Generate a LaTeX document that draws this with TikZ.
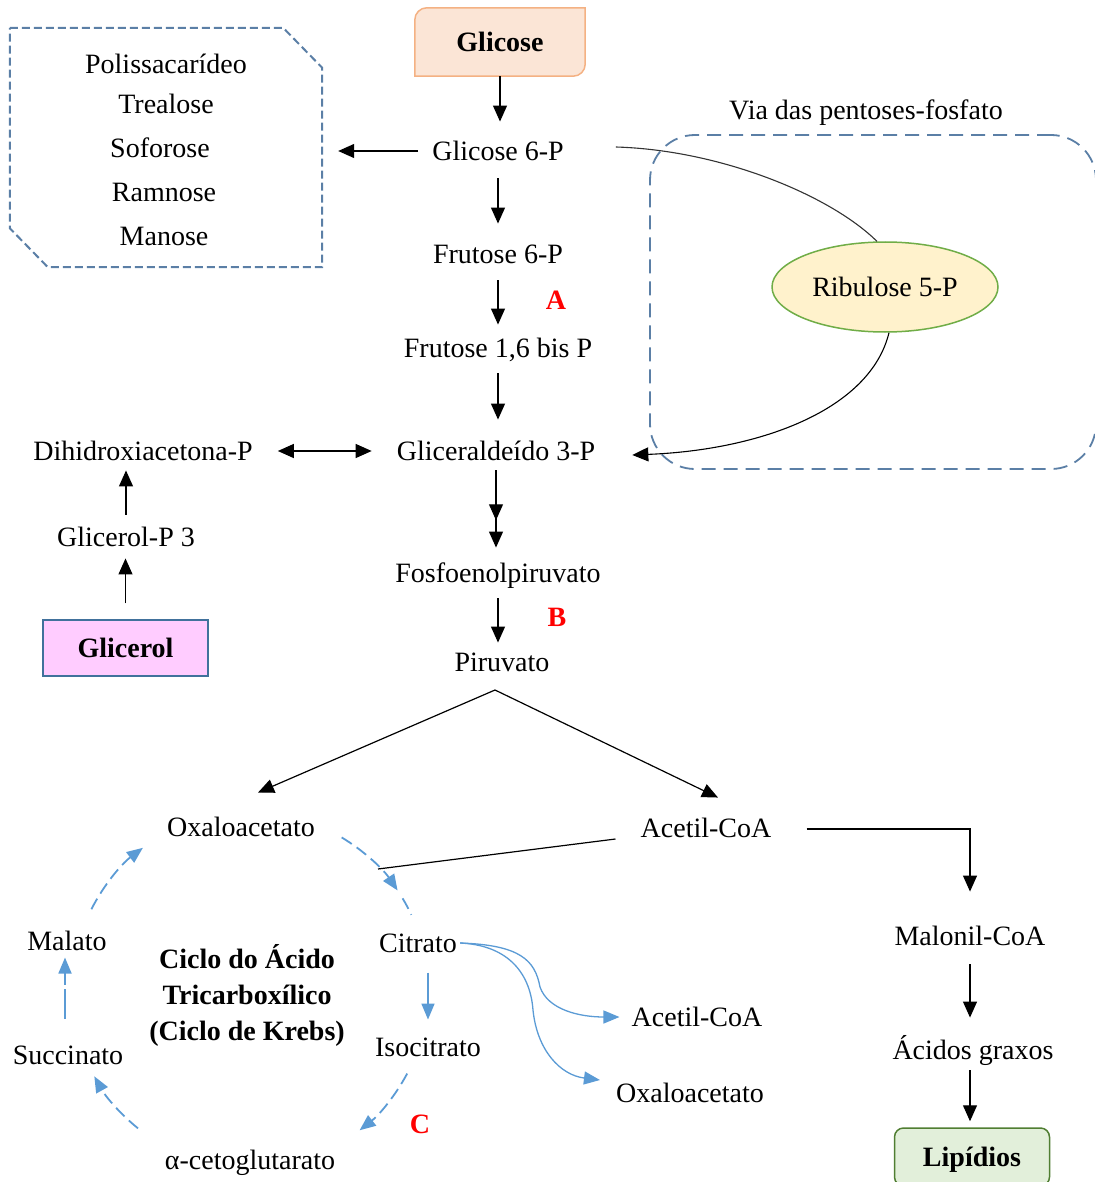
\documentclass[tikz,border=0pt]{standalone}
\usepackage{fontspec}
\setmainfont{Liberation Serif}
\usetikzlibrary{arrows.meta,calc,shapes.geometric,decorations.markings}

\definecolor{boxdash}{HTML}{5B7FA6}
\definecolor{cycblue}{HTML}{5B9BD5}
\definecolor{peachfill}{HTML}{FBE5D6}
\definecolor{peachline}{HTML}{F4B183}
\definecolor{pinkfill}{HTML}{FFCCFF}
\definecolor{pinkline}{HTML}{41719C}
\definecolor{greenfill}{HTML}{E2EFDA}
\definecolor{greenline}{HTML}{507E32}
\definecolor{ribfill}{HTML}{FFF2CC}
\definecolor{ribline}{HTML}{70AD47}

\begin{document}
\begin{tikzpicture}[x=1pt,y=-1pt,
  every node/.style={font=\fontsize{28}{34}\selectfont, inner sep=0pt,
                     text height=18.5pt, text depth=0pt},
  boldlbl/.style={font=\fontsize{28}{34}\selectfont\bfseries},
  mark letter/.style={font=\fontsize{28}{34}\selectfont\bfseries, text=red},
  arr/.style={draw=black, line width=1.2pt, -{Triangle[length=16pt,width=14pt]}},
  dblarr/.style={draw=black, line width=1.2pt,
                 {Triangle[length=16pt,width=14pt]}-{Triangle[length=16pt,width=14pt]}},
  plain/.style={draw=black, line width=1.2pt},
  sh/.style 2 args={shorten <=#1pt, shorten >=#2pt},
  cyc/.style={draw=cycblue, line width=1.8pt, dash pattern=on 12pt off 6pt},
  cycsolid/.style={draw=cycblue, line width=1.6pt},
  bluetip/.style={-{Triangle[length=16pt,width=13pt,fill=cycblue]}},
  midtip/.style={postaction={decorate}, decoration={markings,
      mark=at position #1 with {\arrow{Triangle[length=16pt,width=14pt]}}}},
  polydash/.style={draw=boxdash, line width=2pt, dash pattern=on 8pt off 4pt},
  pentdash/.style={draw=boxdash, line width=1.8pt, dash pattern=on 14pt off 8pt},
]
\useasboundingbox (0,0) rectangle (1094,1182);

% ---------- glycolysis column ----------
\node[boldlbl, minimum width=170pt, minimum height=68pt] (glc) at (500,42) {Glicose};
\draw[fill=peachfill, draw=peachline, line width=1.5pt]
  (glc.south west) -- ($(glc.north west)+(0,12)$) arc[start angle=180,end angle=270,radius=12]
  -- (glc.north east) -- ($(glc.south east)+(0,-12)$) arc[start angle=0,end angle=90,radius=12]
  -- cycle;
\node[boldlbl] at (glc.center) {Glicose};

\node (g6p)  at (498,151) {Glicose 6-P};
\node (f6p)  at (498,254) {Frutose 6-P};
\node (f16)  at (498,348) {Frutose 1,6 bis P};
\node (g3p)  at (496,451) {Gliceraldeído 3-P};
\node (pep)  at (498,573) {Fosfoenolpiruvato};
\node (pir)  at (502,662) {Piruvato};

\node[mark letter] (la) at (556,300) {A};
\node[mark letter] (lb) at (557,617) {B};

\draw[arr, sh={0}{20}] (glc.south) -- (glc.south |- g6p.north);
\draw[arr, sh={18}{21}] (g6p.south) -- (g6p.south |- f6p.north);
\draw[arr, sh={17}{14}] (f6p.south) -- (f6p.south |- f16.north);
\draw[arr, sh={16}{22}] (f16.south) -- (f16.south |- g3p.north);
\draw[arr, sh={10}{16}, midtip=0.58] (g3p.south) -- (g3p.south |- pep.north);
\draw[arr, sh={16}{10}] (pep.south) -- (pep.south |- pir.north);

% ---------- sugars box ----------
\node[minimum width=312pt, minimum height=239pt] (poly) at (166,147.5) {};
\draw[polydash] (poly.north west) -- ($(poly.north east)+(-39,0)$)
  -- ($(poly.north east)+(0,40)$) -- (poly.south east)
  -- ($(poly.south west)+(38,0)$) -- ($(poly.south west)+(0,-39)$) -- cycle;
\node (s1) at (166,64)  {Polissacarídeo};
\node (s2) at (166,104) {Trealose};
\node (s3) at (160,148) {Soforose};
\node (s4) at (164,192) {Ramnose};
\node (s5) at (164,236) {Manose};
\draw[arr, sh={14}{16}] (g6p.west) -- (g6p.west -| poly.east);

% ---------- pentose phosphate pathway ----------
\node[pentdash, rounded corners=45pt, minimum width=446pt, minimum height=334pt]
  (pent) at (873,302) {};
\node (pentlbl) at (866,110) {Via das pentoses-fosfato};
\node[ellipse, fill=ribfill, draw=ribline, line width=1.5pt,
      minimum width=226pt, minimum height=90pt] (rib) at (885,287) {Ribulose 5-P};
\draw[draw=black!80, line width=1.1pt] ($(g6p.east)+(52,-4)$)
  .. controls (720,150) and (830,195) .. (rib.100);
\draw[arr, line width=1.1pt] (rib.-85)
  .. controls (870,410) and (760,450) .. ($(g3p.east)+(37,4)$);

% ---------- glycerol branch ----------
\node (dhap) at (143,451) {Dihidroxiacetona-P};
\node (gp3)  at (126,537) {Glicerol-P 3};
\node[boldlbl, fill=pinkfill, draw=pinkline, line width=1.5pt,
      minimum width=165pt, minimum height=56pt] (gly) at (125.5,648) {Glicerol};
\draw[dblarr, sh={25}{25}] (dhap.east) -- (g3p.west);
\draw[arr, sh={16}{12}] (gly.north) -- (gly.north |- gp3.south);
\draw[arr, sh={13}{10}] (gp3.north) -- (gp3.north |- dhap.south);

% ---------- pyruvate fork ----------
\node (oxa)    at (241,827) {Oxaloacetato};
\node (acetil) at (706,828) {Acetil-CoA};
\coordinate (fork) at (495,690);
\draw[arr] (fork) -- ($(oxa.north)+(17,-25)$);
\draw[arr] (fork) -- ($(acetil.north)+(12,-21)$);

% ---------- fatty acid synthesis ----------
\node (malonil) at (970,936)  {Malonil-CoA};
\node (acidos)  at (973,1050) {Ácidos graxos};
\node[boldlbl, fill=greenfill, draw=greenline, line width=1.5pt, rounded corners=9pt,
      minimum width=155pt, minimum height=58pt] (lip) at (972,1157) {Lipídios};
\draw[arr] ($(acetil.east)+(35,1)$) -| ($(malonil.north)+(0,-35)$);
\draw[arr, sh={19}{23}] (malonil.south) -- (malonil.south |- acidos.north);
\draw[arr, sh={11}{6}] (malonil.south |- acidos.south) -- (malonil.south |- lip.north);

% ---------- Krebs cycle ----------
\coordinate (kc) at (250,990);
\node (cit)   at (418,943)  {Citrato};
\node (iso)   at (428,1047) {Isocitrato};
\node (akg)   at (250,1160) {α-cetoglutarato};
\node (succ)  at (68,1055)  {Succinato};
\node (mal)   at (67,941)   {Malato};
\node[boldlbl, align=center, font=\fontsize{28}{36}\selectfont\bfseries,
      text height=, text depth=] (krebs) at (247,995)
  {Ciclo do Ácido\\Tricarboxílico\\(Ciclo de Krebs)};
\node[mark letter] (lc) at (420,1124) {C};

\draw[cyc, bluetip] ($(kc)+(-59:178)$) arc[start angle=-59,end angle=-34,radius=178];
\draw[cyc] ($(kc)+(-31:178)$) arc[start angle=-31,end angle=-25,radius=178];
\draw[cycsolid, bluetip] ($(iso.north)+(0,-65)$) -- ($(iso.north)+(0,-18)$);
\draw[cyc, bluetip] ($(kc)+(28:178)$) arc[start angle=28,end angle=52,radius=178];
\draw[cyc, bluetip] ($(kc)+(129:178)$) arc[start angle=129,end angle=151,radius=178];
\draw[cyc, bluetip, dash pattern=on 30pt off 4pt] ($(succ.north)+(-3,-27)$) -- ($(succ.north)+(-3,-88)$);
\draw[cyc, bluetip] ($(kc)+(207:178)$) arc[start angle=207,end angle=233,radius=178];

% acetyl-CoA feeding into citrate synthesis
\coordinate (join) at (378,869);
\draw[plain] ($(acetil.west)+(-25,11)$) -- (join);

% citrate outputs
\node (acetilB) at (697,1017) {Acetil-CoA};
\node (oxaB)    at (690,1093) {Oxaloacetato};
\draw[draw=cycblue, line width=1.3pt, bluetip, shorten >=12pt] ($(cit.east)+(3,0)$)
  .. controls (520,945) and (535,960) .. (540,987)
  .. controls (548,1010) and (580,1017) .. (acetilB.west);
\draw[draw=cycblue, line width=1.3pt, bluetip] ($(cit.east)+(3,0)$)
  .. controls (505,945) and (530,970) .. (533,1010)
  .. controls (537,1050) and (560,1075) .. ($(oxaB.west)+(-16,-13)$);

\end{tikzpicture}
\end{document}
